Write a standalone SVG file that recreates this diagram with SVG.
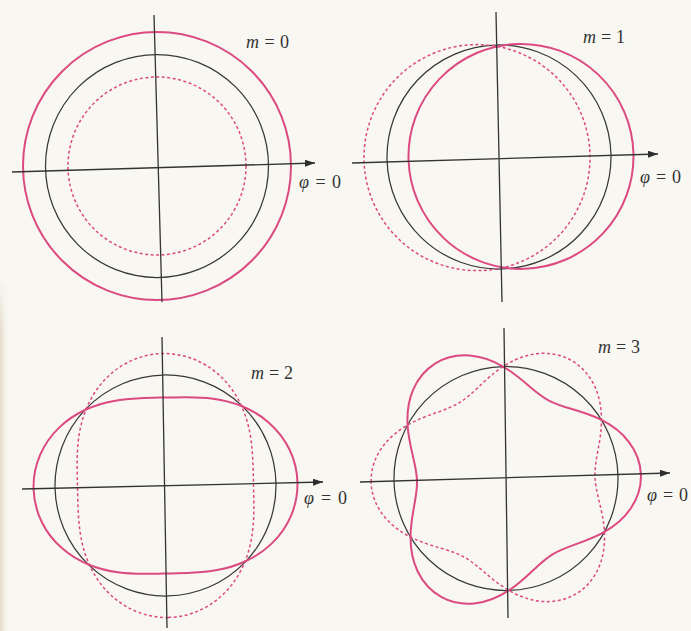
<svg xmlns="http://www.w3.org/2000/svg" width="691" height="631" viewBox="0 0 691 631">
<style>
.ax{stroke:#333;stroke-width:1.3;fill:none}
.blk{stroke:#383838;stroke-width:1.25;fill:none}
.pk{stroke:#dc4a82;stroke-width:2;fill:none}
.pkd{stroke:#dc4a82;stroke-width:1.5;stroke-dasharray:3 2.5;fill:none}
.lbl{font-family:"Liberation Serif","DejaVu Serif",serif;font-size:18px;fill:#333}
.it{font-style:italic}
</style>
<defs>
<marker id="arr" markerWidth="11" markerHeight="8" refX="10" refY="3.5" orient="auto" markerUnits="userSpaceOnUse">
<path d="M0,0 L10,3.5 L0,7 Z" fill="#2e2e2e"/>
</marker>
<linearGradient id="edge" x1="0" y1="0" x2="1" y2="0">
<stop offset="0" stop-color="#e3d9c6"/>
<stop offset="1" stop-color="#f8f7f2" stop-opacity="0"/>
</linearGradient>
<linearGradient id="edgeFade" x1="0" y1="0" x2="0" y2="1">
<stop offset="0" stop-color="#fff" stop-opacity="0"/>
<stop offset="0.15" stop-color="#fff" stop-opacity="1"/>
<stop offset="1" stop-color="#fff" stop-opacity="1"/>
</linearGradient>
<mask id="fadeMask"><rect x="0" y="280" width="10" height="351" fill="url(#edgeFade)"/></mask>
<path id="m2" d="M132,0 C132,11.52 129.42,23.02 124.65,33.40 C119.88,43.78 112.95,53.02 104.79,60.5 C96.63,67.98 87.28,73.71 77.78,77.78 C68.28,81.85 58.64,84.30 49.5,85.74 C40.36,87.18 31.70,87.65 23.54,87.85 C15.38,88.05 7.68,88 0,88 C-7.68,88 -15.38,88.05 -23.54,87.85 C-31.70,87.65 -40.36,87.18 -49.5,85.74 C-58.64,84.30 -68.28,81.85 -77.78,77.78 C-87.28,73.71 -96.63,67.98 -104.79,60.5 C-112.95,53.02 -119.88,43.78 -124.65,33.40 C-129.42,23.02 -132,11.52 -132,0 C-132,-11.52 -129.42,-23.02 -124.65,-33.40 C-119.88,-43.78 -112.95,-53.02 -104.79,-60.5 C-96.63,-67.98 -87.28,-73.71 -77.78,-77.78 C-68.28,-81.85 -58.64,-84.30 -49.5,-85.74 C-40.36,-87.18 -31.70,-87.65 -23.54,-87.85 C-15.38,-88.05 -7.68,-88 0,-88 C7.68,-88 15.38,-88.05 23.54,-87.85 C31.70,-87.65 40.36,-87.18 49.5,-85.74 C58.64,-84.30 68.28,-81.85 77.78,-77.78 C87.28,-73.71 96.63,-67.98 104.79,-60.5 C112.95,-53.02 119.88,-43.78 124.65,-33.40 C129.42,-23.02 132,-11.52 132,0 Z"/>
<path id="m3" d="M135,0 C135,11.78 130.90,23.49 123.89,33.20 C116.88,42.91 107.10,50.55 97,56 C86.90,61.45 76.62,64.80 67.70,67.70 C58.78,70.60 51.23,73.20 44.5,77.08 C37.77,80.96 31.75,86.20 24.78,92.47 C17.81,98.75 9.77,105.98 0,112 C-9.77,118.02 -21.29,122.67 -33.20,123.89 C-45.11,125.11 -57.30,122.80 -67.5,116.91 C-77.70,111.02 -85.80,101.63 -90.70,90.70 C-95.60,79.77 -97.33,67.48 -97,56 C-96.67,44.52 -94.42,33.95 -92.47,24.78 C-90.52,15.61 -89,7.77 -89,0 C-89,-7.77 -90.52,-15.61 -92.47,-24.78 C-94.42,-33.95 -96.67,-44.52 -97,-56 C-97.33,-67.48 -95.60,-79.77 -90.70,-90.70 C-85.80,-101.63 -77.70,-111.02 -67.5,-116.91 C-57.30,-122.80 -45.11,-125.11 -33.20,-123.89 C-21.29,-122.67 -9.77,-118.02 0,-112 C9.77,-105.98 17.81,-98.75 24.78,-92.47 C31.75,-86.20 37.77,-80.96 44.5,-77.08 C51.23,-73.20 58.78,-70.60 67.70,-67.70 C76.62,-64.80 86.90,-61.45 97,-56 C107.10,-50.55 116.88,-42.91 123.89,-33.20 C130.90,-23.49 135,-11.78 135,0 Z"/>
</defs>
<rect width="691" height="631" fill="#f8f7f2"/>
<rect x="0" y="280" width="10" height="351" fill="url(#edge)" mask="url(#fadeMask)"/>

<g id="panel-m0">
<g transform="translate(157,166)">
<circle r="134" class="pk"/>
<circle r="111.5" class="blk"/>
<circle r="89" class="pkd"/>
</g>
<text class="lbl" x="246" y="48" textLength="43" lengthAdjust="spacing"><tspan class="it">m</tspan>=0</text>
<text class="lbl" x="299" y="188" textLength="42" lengthAdjust="spacing"><tspan class="it">φ</tspan>=0</text>
</g>

<g id="panel-m1">
<g transform="translate(499,157) rotate(-1.6)">
<circle r="112" class="blk"/>
<circle cx="-22" r="113" class="pkd"/>
<circle cx="22" r="112.5" class="pk"/>
</g>
<text class="lbl" x="583" y="43" textLength="42" lengthAdjust="spacing"><tspan class="it">m</tspan>=1</text>
<text class="lbl" x="640" y="183" textLength="41" lengthAdjust="spacing"><tspan class="it">φ</tspan>=0</text>
</g>

<g id="panel-m2">
<g transform="translate(165.5,485.5) rotate(-1.3)">
<circle r="110.5" class="blk"/>
<use href="#m2" class="pkd" transform="rotate(90)"/>
<use href="#m2" class="pk"/>
</g>
<text class="lbl" x="251" y="379" textLength="42" lengthAdjust="spacing"><tspan class="it">m</tspan>=2</text>
<text class="lbl" x="304" y="504" textLength="43" lengthAdjust="spacing"><tspan class="it">φ</tspan>=0</text>
</g>

<g id="panel-m3">
<g transform="translate(506,478.5) rotate(-1.5)">
<circle r="112" class="blk"/>
<use href="#m3" class="pkd" transform="rotate(180)"/>
<use href="#m3" class="pk"/>
</g>
<text class="lbl" x="598" y="353" textLength="42" lengthAdjust="spacing"><tspan class="it">m</tspan>=3</text>
<text class="lbl" x="647" y="501" textLength="41" lengthAdjust="spacing"><tspan class="it">φ</tspan>=0</text>
</g>

<g id="axes">
<line class="ax" x1="12" y1="172" x2="315" y2="163" marker-end="url(#arr)"/>
<line class="ax" x1="154" y1="15" x2="162" y2="302"/>
<line class="ax" x1="352" y1="163" x2="658" y2="154" marker-end="url(#arr)"/>
<line class="ax" x1="496" y1="12" x2="502" y2="302"/>
<line class="ax" x1="22" y1="489" x2="323" y2="482" marker-end="url(#arr)"/>
<line class="ax" x1="162" y1="337" x2="167" y2="628"/>
<line class="ax" x1="360" y1="482" x2="670" y2="473" marker-end="url(#arr)"/>
<line class="ax" x1="504" y1="328" x2="508" y2="618"/>
</g>
</svg>
